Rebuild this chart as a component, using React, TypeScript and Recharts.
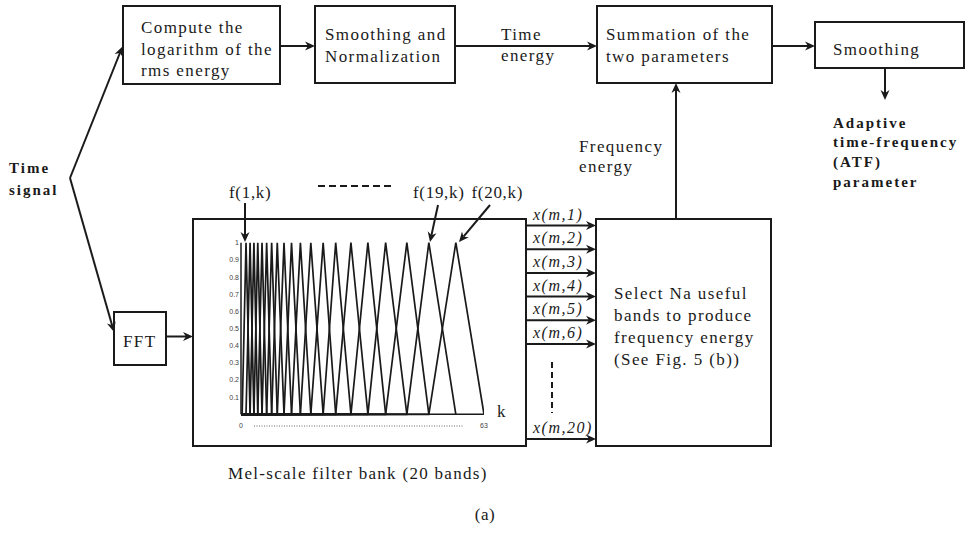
import React from 'react';
import { LineChart, Line, XAxis, YAxis } from 'recharts';

// Mel filter bank: band edges (k bins); filter i rises from edge i to edge i+1 and falls to edge i+2
const filterEdges = [0.3, 1.3, 2.35, 3.35, 4.35, 5.45, 6.65, 7.95, 9.4, 11.15, 13.1, 15.4, 18.1, 21.3, 24.55, 28.5, 32.9, 37.5, 43.0, 48.7, 55.7, 63];
const yTicks = [0.1, 0.2, 0.3, 0.4, 0.5, 0.6, 0.7, 0.8, 0.9, 1];
const xTicks = [0, 63];
const xmLabels = ['x(m,1)', 'x(m,2)', 'x(m,3)', 'x(m,4)', 'x(m,5)', 'x(m,6)', 'x(m,20)'];
const xmRows = [225.5, 249.2, 272.9, 296.6, 320.3, 344, 439];

const filters = filterEdges.slice(0, 20).map((s, i) => ({
  name: `f${i + 1}`,
  points: [
    { k: 0, v: 0 },
    { k: s, v: 0 },
    { k: filterEdges[i + 1], v: 1 },
    { k: filterEdges[i + 2], v: 0 },
  ],
}));

const INK = '#1a1a1a';
const SERIF = '"Liberation Serif", "Times New Roman", serif';

function T({ x, y, children, size = 17, weight = 400, italic = false, ls = 1.4, anchor = 'start' }: any) {
  return (
    <text x={x} y={y} fontSize={size} fontWeight={weight} fontStyle={italic ? 'italic' : 'normal'}
      fontFamily={SERIF} fill={INK} textAnchor={anchor} style={{ letterSpacing: `${ls}px` }}>
      {children}
    </text>
  );
}

function Arrow({ x1, y1, x2, y2, head = 10, w = 4.5 }: any) {
  const dx = x2 - x1, dy = y2 - y1;
  const L = Math.sqrt(dx * dx + dy * dy);
  const ux = dx / L, uy = dy / L;
  const bx = x2 - ux * head, by = y2 - uy * head;
  const px = -uy, py = ux;
  const pts = `${x2},${y2} ${bx + px * w},${by + py * w} ${bx + ux * 3},${by + uy * 3} ${bx - px * w},${by - py * w}`;
  return (
    <g>
      <line x1={x1} y1={y1} x2={bx + ux * 3} y2={by + uy * 3} stroke={INK} strokeWidth={2} />
      <polygon points={pts} fill={INK} />
    </g>
  );
}

function Box({ x, y, w, h }: any) {
  return <rect x={x} y={y} width={w} height={h} fill="none" stroke={INK} strokeWidth={2} />;
}

function Diagram() {
  return (
    <svg width={971} height={546} style={{ position: 'absolute', left: 0, top: 0 }}>
      {/* top row */}
      <Box x={123} y={6} w={157} h={78} />
      <T x={141} y={33}>Compute the</T>
      <T x={141} y={54.5}>logarithm of the</T>
      <T x={141} y={76}>rms energy</T>
      <Arrow x1={280} y1={46} x2={315} y2={46} />
      <Box x={315} y={6} w={140} h={77} />
      <T x={325} y={40}>Smoothing and</T>
      <T x={325} y={61.5}>Normalization</T>
      <Arrow x1={455} y1={46} x2={597} y2={46} />
      <T x={501} y={40}>Time</T>
      <T x={501} y={61}>energy</T>
      <Box x={597} y={6} w={175} h={77} />
      <T x={606} y={40}>Summation of the</T>
      <T x={606} y={61.5}>two parameters</T>
      <Arrow x1={772} y1={46} x2={815} y2={46} />
      <Box x={815} y={22} w={149} h={46} />
      <T x={833} y={55}>Smoothing</T>
      <Arrow x1={885} y1={68} x2={885} y2={100} />
      <T x={833} y={128} size={15} weight={700} ls={2}>Adaptive</T>
      <T x={833} y={147} size={15} weight={700} ls={2}>time-frequency</T>
      <T x={833} y={167} size={15} weight={700} ls={2}>(ATF)</T>
      <T x={833} y={187} size={15} weight={700} ls={2}>parameter</T>
      {/* frequency energy */}
      <Arrow x1={676} y1={219} x2={676} y2={83} />
      <T x={579} y={151.5}>Frequency</T>
      <T x={579} y={171.5}>energy</T>
      {/* time signal */}
      <T x={9} y={173} size={15} weight={700} ls={2}>Time</T>
      <T x={9} y={195} size={15} weight={700} ls={2}>signal</T>
      <Arrow x1={70} y1={178} x2={122.5} y2={46.5} />
      <Arrow x1={70} y1={178} x2={114} y2={332} />
      <Box x={114} y={312} w={52} h={53} />
      <T x={123} y={346.5}>FFT</T>
      <Arrow x1={166} y1={336.5} x2={193} y2={336.5} />
      {/* filter bank frame */}
      <Box x={193} y={219} w={333} h={227} />
      <T x={229} y={198} ls={0.7}>f(1,k)</T>
      <Arrow x1={245} y1={203} x2={245} y2={242} />
      <line x1={318} y1={186} x2={395} y2={186} stroke={INK} strokeWidth={2} strokeDasharray="7 4" />
      <T x={413} y={198} ls={0.7}>f(19,k)</T>
      <T x={471.5} y={198} ls={0.7}>f(20,k)</T>
      <Arrow x1={438} y1={205} x2={430} y2={242} />
      <Arrow x1={490} y1={205} x2={459} y2={242} />
      <T x={497} y={417} size={17} ls={0}>k</T>
      <line x1={254} y1={426} x2={463} y2={426} stroke="#666" strokeWidth={1} strokeDasharray="1 1.5" />
      {/* band outputs */}
      {xmRows.map((y, i) => (
        <g key={i}>
          <Arrow x1={526} y1={y} x2={596} y2={y} />
          <T x={533} y={y - 6} size={16} italic ls={1.5}>{xmLabels[i]}</T>
        </g>
      ))}
      <line x1={552} y1={362} x2={552} y2={413} stroke={INK} strokeWidth={2} strokeDasharray="6 4" />
      <Box x={596} y={219} w={175} h={227} />
      <T x={614} y={299}>Select Na useful</T>
      <T x={614} y={321}>bands to produce</T>
      <T x={614} y={343}>frequency energy</T>
      <T x={614} y={365}>(See Fig. 5 (b))</T>
      <T x={228} y={479} ls={1.3}>Mel-scale filter bank (20 bands)</T>
      <T x={485} y={520} anchor="middle" ls={0.5}>(a)</T>
    </svg>
  );
}

export default function App() {
  return (
    <div style={{ position: 'fixed', left: 0, top: 0, width: 971, height: 546, background: '#fff', overflow: 'hidden' }}>
      <Diagram />
      <div style={{ position: 'absolute', left: 0, top: 0 }}>
        <LineChart width={971} height={546} margin={{ top: 242.7, right: 487, bottom: 101.7, left: 181 }}>
          <XAxis type="number" dataKey="k" domain={[0, 63]} ticks={xTicks} allowDataOverflow
            tickLine={false} tickSize={0} tickMargin={9} height={30}
            axisLine={{ stroke: INK, strokeWidth: 1.5 }}
            tick={{ fontSize: 7, fill: '#444', fontFamily: '"Liberation Sans", Arial, sans-serif' }} />
          <YAxis type="number" domain={[0, 1]} ticks={yTicks} width={60}
            tickLine={false} tickSize={0} tickMargin={2}
            axisLine={{ stroke: INK, strokeWidth: 1.5 }}
            tick={{ fontSize: 7, fill: '#444', fontFamily: '"Liberation Sans", Arial, sans-serif' }} />
          {filters.map((f) => (
            <Line key={f.name} name={f.name} data={f.points} dataKey="v" type="linear"
              stroke={INK} strokeWidth={1.7} dot={false} isAnimationActive={false} />
          ))}
        </LineChart>
      </div>
    </div>
  );
}
